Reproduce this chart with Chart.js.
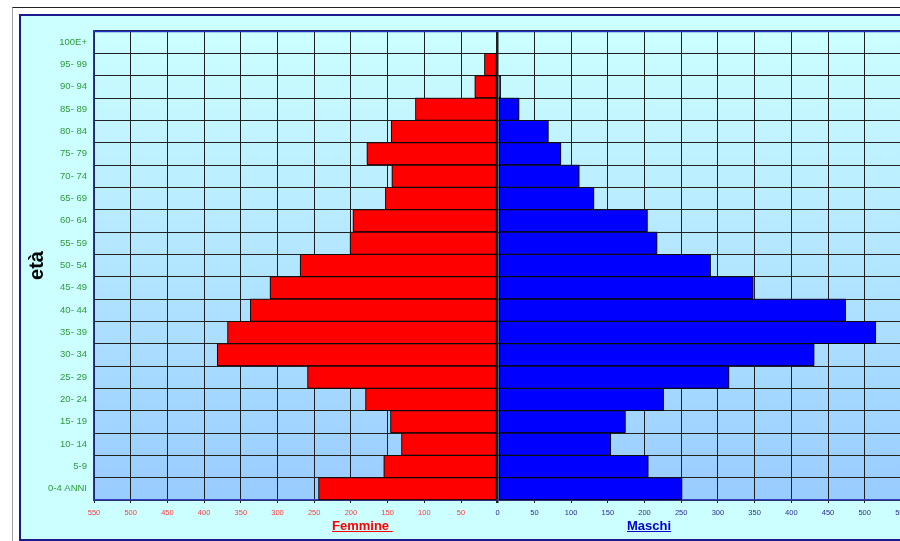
<!DOCTYPE html>
<html><head><meta charset="utf-8">
<script src="https://cdn.jsdelivr.net/npm/chart.js@4.4.0/dist/chart.umd.min.js"></script>
<style>
html,body{margin:0;padding:0;width:900px;height:541px;overflow:hidden;background:#fff;position:relative;font-family:"Liberation Sans",Arial,sans-serif}
#frame{position:absolute;left:12px;top:7px;width:900px;height:540px;border-left:1px solid #a0a0a0;border-top:1px solid #222}
#panel{position:absolute;left:19px;top:14px;width:900px;height:523px;border:2px solid #1a1a8c;background:#ccffff}
#wrap{position:absolute;left:0;top:0;width:920px;height:541px}
.ttl{position:absolute;font:bold 13px "Liberation Sans",Arial,sans-serif;line-height:15px;text-decoration:underline;top:518px;white-space:pre}
</style></head>
<body>
<div id="frame"></div>
<div id="panel"></div>
<div id="wrap"><canvas id="c" width="920" height="541"></canvas></div>
<div class="ttl" style="left:332px;color:#ff0000">Femmine </div>
<div class="ttl" style="left:627px;color:#0000cc">Maschi</div>
<script>
const ageGroups = ['100E+','95- 99','90- 94','85- 89','80- 84','75- 79','70- 74','65- 69','60- 64','55- 59','50- 54','45- 49','40- 44','35- 39','30- 34','25- 29','20- 24','15- 19','10- 14','5-9','0-4 ANNI'];
const femmine = [0,18,31,112,145,178,144,153,197,201,269,310,337,368,382,259,180,146,131,155,244];
const maschi  = [0,0,4,29,69,86,111,131,204,217,290,348,474,515,431,315,226,174,154,205,251];
const axisMax = 550;
const axisStep = 50;

const bgPlugin = {
  id: 'bg',
  beforeDraw(chart) {
    const {ctx, chartArea: a} = chart;
    const g = ctx.createLinearGradient(0, a.top, 0, a.bottom);
    g.addColorStop(0, '#ccffff');
    g.addColorStop(1, '#99ccff');
    ctx.save();
    ctx.fillStyle = g;
    ctx.fillRect(a.left, a.top, a.right - a.left, a.bottom - a.top);
    ctx.restore();
  },
  beforeDatasetDraw(chart, args) {
    const ctx = chart.ctx;
    ctx.save();
    ctx.shadowColor = 'rgba(30,30,30,0.5)';
    ctx.shadowBlur = 0;
    ctx.shadowOffsetX = args.index === 0 ? -1.5 : 1.5;
    ctx.shadowOffsetY = -1;
  },
  afterDatasetDraw(chart) {
    chart.ctx.restore();
  },
  afterDraw(chart) {
    const {ctx, chartArea: a} = chart;
    ctx.save();
    ctx.strokeStyle = '#1f2fd0';
    ctx.lineWidth = 1.5;
    ctx.beginPath();
    ctx.moveTo(a.left, a.top + 0.5);
    ctx.lineTo(a.right, a.top + 0.5);
    ctx.stroke();
    ctx.restore();
  }
};

new Chart(document.getElementById('c'), {
  type: 'bar',
  data: {
    labels: ageGroups,
    datasets: [
      { label: 'Femmine', data: femmine.map(v => -v), backgroundColor: '#ff0000', borderColor: '#000', borderWidth: 1, borderSkipped: false, barPercentage: 1, categoryPercentage: 1 },
      { label: 'Maschi', data: maschi, backgroundColor: '#0000ff', borderColor: '#000', borderWidth: 1, borderSkipped: false, barPercentage: 1, categoryPercentage: 1 }
    ]
  },
  options: {
    indexAxis: 'y',
    responsive: false,
    animation: false,
    devicePixelRatio: 1,
    layout: { padding: { left: 19, top: 31, right: 18.6, bottom: 21 } },
    plugins: { legend: { display: false }, tooltip: { enabled: false } },
    scales: {
      x: {
        type: 'linear', stacked: true, min: -axisMax, max: axisMax,
        afterFit(s) { s.height = 20; },
        ticks: {
          stepSize: axisStep, autoSkip: false, maxRotation: 0, padding: 5,
          callback: v => Math.abs(v),
          color: c => (c.tick && c.tick.value < 0) ? '#ff3b3b' : '#2d2d8f',
          font: { family: '"Liberation Sans", Arial, sans-serif', size: 7.5 }
        },
        grid: {
          color: '#1e1e1e', tickLength: 3,
          lineWidth: c => (c.tick && c.tick.value === 0) ? 2.5 : 1
        },
        border: { display: true, color: '#3040c0', width: 1.5 }
      },
      y: {
        type: 'category', stacked: true,
        afterFit(s) { s.width = 75; },
        ticks: {
          color: '#2f9a3a', padding: 7,
          font: { family: '"Liberation Sans", Arial, sans-serif', size: 9.5 }
        },
        grid: { color: '#222', drawTicks: false },
        border: { display: true, color: '#1f2fd0', width: 1.5 },
        title: {
          display: true, text: 'età', color: '#000',
          font: { family: '"Liberation Sans", Arial, sans-serif', size: 20, weight: 'bold' },
          padding: { top: 6, bottom: 0 }
        }
      }
    }
  },
  plugins: [bgPlugin]
});
</script>
</body></html>
